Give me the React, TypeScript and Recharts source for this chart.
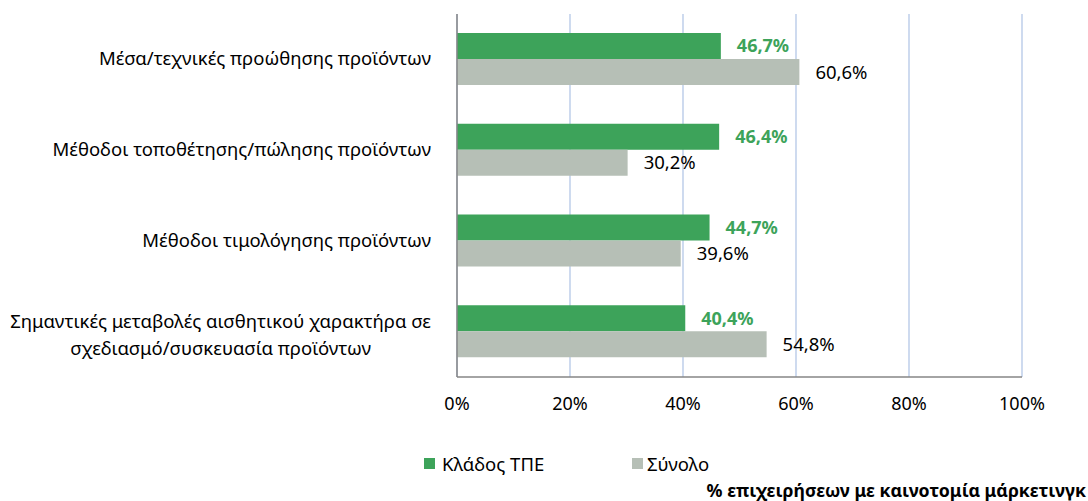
import React from "react";
import { BarChart, Bar, XAxis, YAxis, CartesianGrid, LabelList } from "recharts";

const categories = [
  "Μέσα/τεχνικές προώθησης προϊόντων",
  "Μέθοδοι τοποθέτησης/πώλησης προϊόντων",
  "Μέθοδοι τιμολόγησης προϊόντων",
  "Σημαντικές μεταβολές αισθητικού χαρακτήρα σε|σχεδιασμό/συσκευασία προϊόντων",
];
const tpeValues = [46.7, 46.4, 44.7, 40.4];
const totalValues = [60.6, 30.2, 39.6, 54.8];
const xTicks = [0, 20, 40, 60, 80, 100];
const seriesNames = ["Κλάδος ΤΠΕ", "Σύνολο"];
const footnote = "% επιχειρήσεων με καινοτομία μάρκετινγκ";

const FONT = "'Noto Sans', sans-serif";
const GREEN = "#3DA35A";
const GRAY = "#B6BFB6";
const CAT_SIZE = 18.5;

const data = categories.map((name, i) => ({
  name,
  tpe: tpeValues[i],
  total: totalValues[i],
}));

let ctx: CanvasRenderingContext2D | null = null;
function measure(text: string, size: number) {
  if (!ctx) ctx = document.createElement("canvas").getContext("2d");
  if (!ctx) return text.length * size * 0.5;
  ctx.font = `${size}px ${FONT}`;
  return ctx.measureText(text).width;
}

const fmt = (v: any) => `${Number(v).toFixed(1).replace(".", ",")}%`;

function CategoryTick(props: any) {
  const { x, y, payload } = props;
  const lines = String(payload.value).split("|");
  const right = x - 18;
  if (lines.length === 1) {
    return (
      <text x={right} y={y} dy={6} textAnchor="end" fontSize={CAT_SIZE} fontFamily={FONT} fill="#000">
        {lines[0]}
      </text>
    );
  }
  const w = Math.max(...lines.map((l) => measure(l, CAT_SIZE)));
  const cx = right - w / 2;
  return (
    <text x={cx} y={y} textAnchor="middle" fontSize={CAT_SIZE} fontFamily={FONT} fill="#000">
      {lines.map((l, i) => (
        <tspan key={i} x={cx} dy={i === 0 ? -4 : 27}>
          {l}
        </tspan>
      ))}
    </text>
  );
}

export default function App() {
  return (
    <div style={{ position: "absolute", left: 0, top: 0, width: 1088, height: 501, overflow: "hidden", background: "#fff" }}>
      <BarChart
        width={1088}
        height={501}
        data={data}
        layout="vertical"
        margin={{ top: 14, right: 66, bottom: 94, left: 0 }}
        barCategoryGap="21%"
        barGap={0}
      >
        <CartesianGrid stroke="#B4C7E7" strokeWidth={1.3} horizontal={false} vertical={true} />
        <XAxis
          type="number"
          domain={[0, 100]}
          ticks={xTicks}
          tickFormatter={(v) => `${v}%`}
          tick={{ fontSize: 18, fontFamily: FONT, fill: "#000" }}
          axisLine={{ stroke: "#868686", strokeWidth: 1.5 }}
          tickLine={false}
          tickMargin={14}
          height={30}
        />
        <YAxis
          type="category"
          dataKey="name"
          width={457}
          tick={<CategoryTick />}
          axisLine={{ stroke: "#868686", strokeWidth: 1.5 }}
          tickLine={false}
          interval={0}
        />
        <Bar dataKey="tpe" fill={GREEN} barSize={26} isAnimationActive={false}>
          <LabelList
            dataKey="tpe"
            position="right"
            offset={16}
            formatter={fmt}
            style={{ fill: GREEN, fontWeight: 700, fontSize: 18, fontFamily: FONT }}
          />
        </Bar>
        <Bar dataKey="total" fill={GRAY} barSize={26} isAnimationActive={false}>
          <LabelList
            dataKey="total"
            position="right"
            offset={16}
            formatter={fmt}
            style={{ fill: "#000", fontSize: 18.5, fontFamily: FONT }}
          />
        </Bar>
      </BarChart>
      <div style={{ position: "absolute", left: 424, top: 450, height: 26, display: "flex", alignItems: "center", fontFamily: FONT, fontSize: 18.5 }}>
        <span style={{ width: 11, height: 11, background: GREEN, display: "inline-block", marginRight: 7 }} />
        <span>{seriesNames[0]}</span>
      </div>
      <div style={{ position: "absolute", left: 632, top: 450, height: 26, display: "flex", alignItems: "center", fontFamily: FONT, fontSize: 18.5 }}>
        <span style={{ width: 11, height: 11, background: GRAY, display: "inline-block", marginRight: 4 }} />
        <span>{seriesNames[1]}</span>
      </div>
      <div style={{ position: "absolute", right: 2, top: 478, whiteSpace: "nowrap", fontFamily: FONT, fontSize: 17.7, fontWeight: 700 }}>
        {footnote}
      </div>
    </div>
  );
}
